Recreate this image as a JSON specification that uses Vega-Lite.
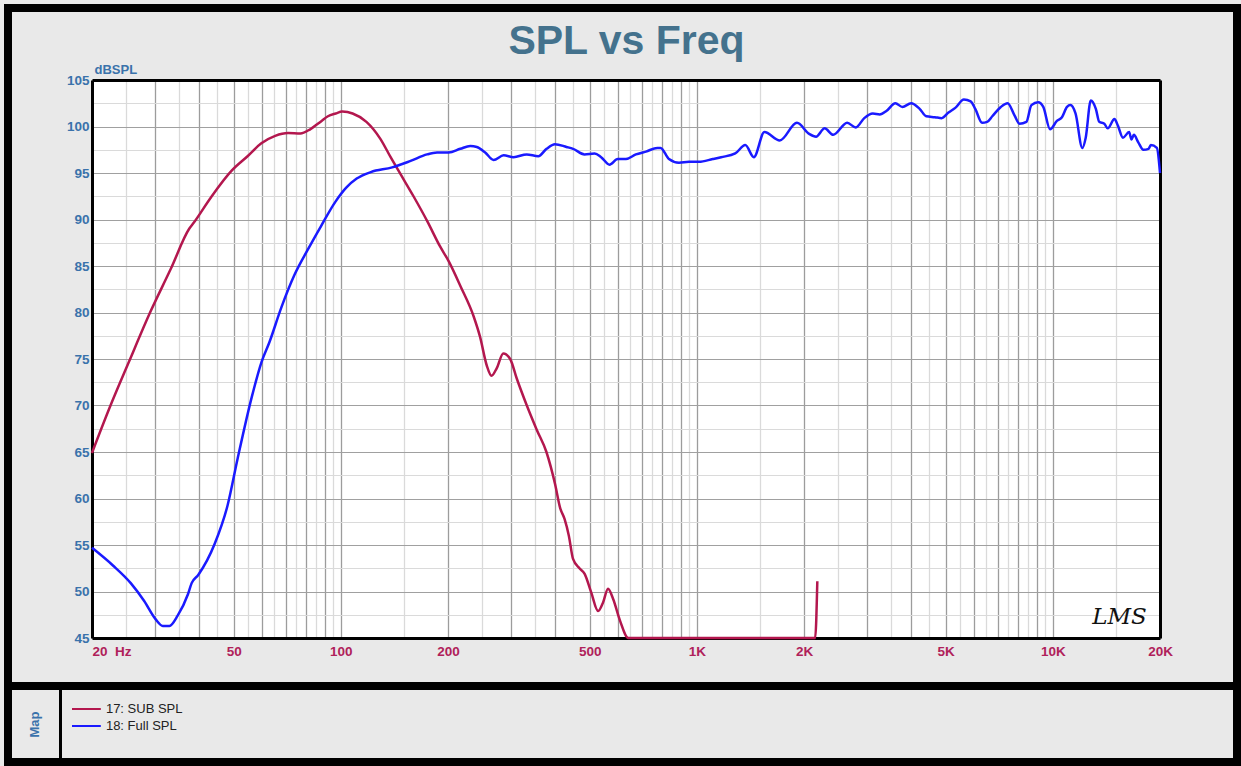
{
  "$schema": "https://vega.github.io/schema/vega-lite/v6.json",
  "background": "#e9e9e9",
  "padding": {"left": 4, "top": 4, "right": 0, "bottom": 0},
  "bounds": "flush",
  "spacing": 0,
  "config": {"font": "Liberation Sans", "view": {"stroke": null}},
  "datasets": {
    "spl": [
      {"series": "17: SUB SPL", "freq": 20, "db": 64.9},
      {"series": "17: SUB SPL", "freq": 22.6, "db": 70.1},
      {"series": "17: SUB SPL", "freq": 25.4, "db": 74.7},
      {"series": "17: SUB SPL", "freq": 29.2, "db": 80.1},
      {"series": "17: SUB SPL", "freq": 33.3, "db": 84.7},
      {"series": "17: SUB SPL", "freq": 37.5, "db": 89.0},
      {"series": "17: SUB SPL", "freq": 38.7, "db": 89.7},
      {"series": "17: SUB SPL", "freq": 43.2, "db": 92.4},
      {"series": "17: SUB SPL", "freq": 49.5, "db": 95.3},
      {"series": "17: SUB SPL", "freq": 54.7, "db": 96.8},
      {"series": "17: SUB SPL", "freq": 59.8, "db": 98.2},
      {"series": "17: SUB SPL", "freq": 65.4, "db": 99.0},
      {"series": "17: SUB SPL", "freq": 71.1, "db": 99.3},
      {"series": "17: SUB SPL", "freq": 77, "db": 99.25},
      {"series": "17: SUB SPL", "freq": 82, "db": 99.7},
      {"series": "17: SUB SPL", "freq": 88.3, "db": 100.6},
      {"series": "17: SUB SPL", "freq": 92, "db": 101.1},
      {"series": "17: SUB SPL", "freq": 96.7, "db": 101.4},
      {"series": "17: SUB SPL", "freq": 101, "db": 101.6},
      {"series": "17: SUB SPL", "freq": 107.9, "db": 101.4},
      {"series": "17: SUB SPL", "freq": 118, "db": 100.5},
      {"series": "17: SUB SPL", "freq": 129, "db": 98.7},
      {"series": "17: SUB SPL", "freq": 138, "db": 96.7},
      {"series": "17: SUB SPL", "freq": 147, "db": 94.9},
      {"series": "17: SUB SPL", "freq": 160, "db": 92.5},
      {"series": "17: SUB SPL", "freq": 175, "db": 89.8},
      {"series": "17: SUB SPL", "freq": 190, "db": 87.1},
      {"series": "17: SUB SPL", "freq": 201, "db": 85.5},
      {"series": "17: SUB SPL", "freq": 217, "db": 82.8},
      {"series": "17: SUB SPL", "freq": 236, "db": 79.6},
      {"series": "17: SUB SPL", "freq": 246, "db": 77.4},
      {"series": "17: SUB SPL", "freq": 257, "db": 74.3},
      {"series": "17: SUB SPL", "freq": 265, "db": 73.2},
      {"series": "17: SUB SPL", "freq": 274, "db": 74.0},
      {"series": "17: SUB SPL", "freq": 286, "db": 75.6},
      {"series": "17: SUB SPL", "freq": 299, "db": 75.0},
      {"series": "17: SUB SPL", "freq": 312, "db": 72.9},
      {"series": "17: SUB SPL", "freq": 333, "db": 70.0},
      {"series": "17: SUB SPL", "freq": 355, "db": 67.4},
      {"series": "17: SUB SPL", "freq": 378, "db": 65.0},
      {"series": "17: SUB SPL", "freq": 400, "db": 61.5},
      {"series": "17: SUB SPL", "freq": 413, "db": 59.0},
      {"series": "17: SUB SPL", "freq": 425, "db": 57.8},
      {"series": "17: SUB SPL", "freq": 437, "db": 56.0},
      {"series": "17: SUB SPL", "freq": 449, "db": 53.5},
      {"series": "17: SUB SPL", "freq": 468, "db": 52.5},
      {"series": "17: SUB SPL", "freq": 484, "db": 51.9},
      {"series": "17: SUB SPL", "freq": 505, "db": 49.9},
      {"series": "17: SUB SPL", "freq": 528, "db": 47.9},
      {"series": "17: SUB SPL", "freq": 545, "db": 48.8},
      {"series": "17: SUB SPL", "freq": 563, "db": 50.3},
      {"series": "17: SUB SPL", "freq": 582, "db": 49.2},
      {"series": "17: SUB SPL", "freq": 608, "db": 46.9},
      {"series": "17: SUB SPL", "freq": 642, "db": 45.0},
      {"series": "17: SUB SPL", "freq": 2150, "db": 45.0},
      {"series": "17: SUB SPL", "freq": 2180, "db": 51.1},
      {"series": "18: Full SPL", "freq": 20, "db": 54.7},
      {"series": "18: Full SPL", "freq": 22.9, "db": 52.8},
      {"series": "18: Full SPL", "freq": 25.7, "db": 50.9},
      {"series": "18: Full SPL", "freq": 28, "db": 49.0},
      {"series": "18: Full SPL", "freq": 30.2, "db": 47.0},
      {"series": "18: Full SPL", "freq": 31.6, "db": 46.3},
      {"series": "18: Full SPL", "freq": 33, "db": 46.3},
      {"series": "18: Full SPL", "freq": 34.8, "db": 47.4},
      {"series": "18: Full SPL", "freq": 37.2, "db": 49.7},
      {"series": "18: Full SPL", "freq": 38.1, "db": 50.9},
      {"series": "18: Full SPL", "freq": 39.8, "db": 51.8},
      {"series": "18: Full SPL", "freq": 44.2, "db": 55.1},
      {"series": "18: Full SPL", "freq": 48.1, "db": 59.3},
      {"series": "18: Full SPL", "freq": 51.3, "db": 64.3},
      {"series": "18: Full SPL", "freq": 56.2, "db": 70.9},
      {"series": "18: Full SPL", "freq": 59.9, "db": 74.7},
      {"series": "18: Full SPL", "freq": 63, "db": 76.8},
      {"series": "18: Full SPL", "freq": 68, "db": 80.5},
      {"series": "18: Full SPL", "freq": 74, "db": 84.0},
      {"series": "18: Full SPL", "freq": 80.6, "db": 86.7},
      {"series": "18: Full SPL", "freq": 88, "db": 89.3},
      {"series": "18: Full SPL", "freq": 96.5, "db": 91.9},
      {"series": "18: Full SPL", "freq": 103.4, "db": 93.4},
      {"series": "18: Full SPL", "freq": 110.8, "db": 94.4},
      {"series": "18: Full SPL", "freq": 121.4, "db": 95.1},
      {"series": "18: Full SPL", "freq": 139.4, "db": 95.6},
      {"series": "18: Full SPL", "freq": 157, "db": 96.3},
      {"series": "18: Full SPL", "freq": 174.6, "db": 97.0},
      {"series": "18: Full SPL", "freq": 186.3, "db": 97.2},
      {"series": "18: Full SPL", "freq": 200.9, "db": 97.2},
      {"series": "18: Full SPL", "freq": 216.6, "db": 97.6},
      {"series": "18: Full SPL", "freq": 231, "db": 97.9},
      {"series": "18: Full SPL", "freq": 241, "db": 97.8},
      {"series": "18: Full SPL", "freq": 254.4, "db": 97.2},
      {"series": "18: Full SPL", "freq": 268.6, "db": 96.4},
      {"series": "18: Full SPL", "freq": 286.6, "db": 96.9},
      {"series": "18: Full SPL", "freq": 305.6, "db": 96.7},
      {"series": "18: Full SPL", "freq": 332.7, "db": 97.0},
      {"series": "18: Full SPL", "freq": 358.6, "db": 96.8},
      {"series": "18: Full SPL", "freq": 378.4, "db": 97.6},
      {"series": "18: Full SPL", "freq": 399.4, "db": 98.1},
      {"series": "18: Full SPL", "freq": 430.4, "db": 97.8},
      {"series": "18: Full SPL", "freq": 449.2, "db": 97.6},
      {"series": "18: Full SPL", "freq": 483.5, "db": 97.0},
      {"series": "18: Full SPL", "freq": 516.2, "db": 97.1},
      {"series": "18: Full SPL", "freq": 538.5, "db": 96.7},
      {"series": "18: Full SPL", "freq": 568.5, "db": 95.9},
      {"series": "18: Full SPL", "freq": 599.5, "db": 96.5},
      {"series": "18: Full SPL", "freq": 632.2, "db": 96.5},
      {"series": "18: Full SPL", "freq": 674.3, "db": 97.0},
      {"series": "18: Full SPL", "freq": 719.5, "db": 97.3},
      {"series": "18: Full SPL", "freq": 774.5, "db": 97.7},
      {"series": "18: Full SPL", "freq": 790.9, "db": 97.7},
      {"series": "18: Full SPL", "freq": 835, "db": 96.5},
      {"series": "18: Full SPL", "freq": 891, "db": 96.1},
      {"series": "18: Full SPL", "freq": 951, "db": 96.2},
      {"series": "18: Full SPL", "freq": 1014, "db": 96.2},
      {"series": "18: Full SPL", "freq": 1108, "db": 96.5},
      {"series": "18: Full SPL", "freq": 1170, "db": 96.7},
      {"series": "18: Full SPL", "freq": 1282, "db": 97.1},
      {"series": "18: Full SPL", "freq": 1368, "db": 98.0},
      {"series": "18: Full SPL", "freq": 1446, "db": 96.7},
      {"series": "18: Full SPL", "freq": 1548, "db": 99.4},
      {"series": "18: Full SPL", "freq": 1710, "db": 98.5},
      {"series": "18: Full SPL", "freq": 1911, "db": 100.4},
      {"series": "18: Full SPL", "freq": 2068, "db": 99.2},
      {"series": "18: Full SPL", "freq": 2162, "db": 98.9},
      {"series": "18: Full SPL", "freq": 2286, "db": 99.8},
      {"series": "18: Full SPL", "freq": 2415, "db": 99.1},
      {"series": "18: Full SPL", "freq": 2644, "db": 100.4},
      {"series": "18: Full SPL", "freq": 2796, "db": 99.9},
      {"series": "18: Full SPL", "freq": 2953, "db": 100.9},
      {"series": "18: Full SPL", "freq": 3121, "db": 101.4},
      {"series": "18: Full SPL", "freq": 3265, "db": 101.3},
      {"series": "18: Full SPL", "freq": 3414, "db": 101.7},
      {"series": "18: Full SPL", "freq": 3611, "db": 102.5},
      {"series": "18: Full SPL", "freq": 3781, "db": 102.1},
      {"series": "18: Full SPL", "freq": 3998, "db": 102.5},
      {"series": "18: Full SPL", "freq": 4225, "db": 101.9},
      {"series": "18: Full SPL", "freq": 4412, "db": 101.1},
      {"series": "18: Full SPL", "freq": 4663, "db": 101.0},
      {"series": "18: Full SPL", "freq": 4873, "db": 100.9},
      {"series": "18: Full SPL", "freq": 5092, "db": 101.5},
      {"series": "18: Full SPL", "freq": 5321, "db": 102.0},
      {"series": "18: Full SPL", "freq": 5625, "db": 102.9},
      {"series": "18: Full SPL", "freq": 5877, "db": 102.7},
      {"series": "18: Full SPL", "freq": 6055, "db": 101.9},
      {"series": "18: Full SPL", "freq": 6328, "db": 100.4},
      {"series": "18: Full SPL", "freq": 6538, "db": 100.5},
      {"series": "18: Full SPL", "freq": 6760, "db": 101.1},
      {"series": "18: Full SPL", "freq": 7143, "db": 102.1},
      {"series": "18: Full SPL", "freq": 7466, "db": 102.5},
      {"series": "18: Full SPL", "freq": 7804, "db": 101.2},
      {"series": "18: Full SPL", "freq": 8064, "db": 100.3},
      {"series": "18: Full SPL", "freq": 8427, "db": 100.5},
      {"series": "18: Full SPL", "freq": 8706, "db": 102.3},
      {"series": "18: Full SPL", "freq": 9098, "db": 102.6},
      {"series": "18: Full SPL", "freq": 9401, "db": 102.1},
      {"series": "18: Full SPL", "freq": 9824, "db": 99.7},
      {"series": "18: Full SPL", "freq": 10266, "db": 100.6},
      {"series": "18: Full SPL", "freq": 10608, "db": 101.0},
      {"series": "18: Full SPL", "freq": 10961, "db": 102.1},
      {"series": "18: Full SPL", "freq": 11206, "db": 102.3},
      {"series": "18: Full SPL", "freq": 11580, "db": 101.4},
      {"series": "18: Full SPL", "freq": 12101, "db": 97.7},
      {"series": "18: Full SPL", "freq": 12370, "db": 98.8},
      {"series": "18: Full SPL", "freq": 12782, "db": 102.8},
      {"series": "18: Full SPL", "freq": 13208, "db": 101.9},
      {"series": "18: Full SPL", "freq": 13502, "db": 100.5},
      {"series": "18: Full SPL", "freq": 13952, "db": 100.3},
      {"series": "18: Full SPL", "freq": 14260, "db": 99.8},
      {"series": "18: Full SPL", "freq": 14900, "db": 100.8},
      {"series": "18: Full SPL", "freq": 15230, "db": 100.1},
      {"series": "18: Full SPL", "freq": 15740, "db": 98.8},
      {"series": "18: Full SPL", "freq": 16380, "db": 99.4},
      {"series": "18: Full SPL", "freq": 16630, "db": 98.6},
      {"series": "18: Full SPL", "freq": 16890, "db": 99.1},
      {"series": "18: Full SPL", "freq": 17380, "db": 98.3},
      {"series": "18: Full SPL", "freq": 17960, "db": 97.5},
      {"series": "18: Full SPL", "freq": 18570, "db": 97.6},
      {"series": "18: Full SPL", "freq": 18850, "db": 98.0},
      {"series": "18: Full SPL", "freq": 19600, "db": 97.7},
      {"series": "18: Full SPL", "freq": 20000, "db": 95.0}
    ]
  },
  "vconcat": [
    {
      "width": 1229,
      "height": 678,
      "view": {"stroke": "#000000", "strokeWidth": 8, "fill": "#e9e9e9"},
      "title": {
        "text": "SPL vs Freq",
        "fontSize": 41,
        "fontWeight": "bold",
        "color": "#44728d",
        "anchor": "middle",
        "frame": "group",
        "baseline": "alphabetic",
        "offset": -87,
        "dx": 4
      },
      "data": {"name": "spl"},
      "layer": [
        {
          "transform": [{"filter": "datum.series == '17: SUB SPL'"}],
          "mark": {"type": "line", "strokeWidth": 2.5, "interpolate": "monotone"},
          "encoding": {
            "x": {
              "field": "freq", "type": "quantitative",
              "scale": {"type": "log", "domain": [20, 20000], "range": [84, 1152], "nice": false},
              "axis": {"orient": "top", "values": [632.4555], "grid": true, "gridColor": "#ffffff", "gridWidth": 1068, "gridOpacity": 1, "labels": false, "ticks": false, "domain": false, "title": null}
            },
            "y": {
              "field": "db", "type": "quantitative",
              "scale": {"domain": [45, 105], "range": [630, 72], "zero": false, "nice": false},
              "axis": {
                "orient": "left", "offset": -84,
                "values": [45, 47.5, 50, 52.5, 55, 57.5, 60, 62.5, 65, 67.5, 70, 72.5, 75, 77.5, 80, 82.5, 85, 87.5, 90, 92.5, 95, 97.5, 100, 102.5, 105],
                "grid": true,
                "gridColor": {"condition": {"test": "datum.value % 5 == 0", "value": "#a0a0a0"}, "value": "#dadada"},
                "gridWidth": 1.2, "gridOpacity": 1,
                "ticks": false,
                "domain": true, "domainColor": "#000000", "domainWidth": 3,
                "labelExpr": "datum.value % 5 == 0 ? datum.label : ''",
                "labelColor": "#3a72ab", "labelFontSize": 13.5, "labelFontWeight": "bold", "labelPadding": 3,
                "labelOverlap": false, "labelBound": false, "labelFlush": false,
                "title": "dBSPL", "titleAngle": 0, "titleX": 2, "titleY": 65, "titleAlign": "left", "titleBaseline": "alphabetic",
                "titleColor": "#3a72ab", "titleFontSize": 13, "titleFontWeight": "bold"
              }
            },
            "color": {
              "field": "series", "type": "nominal",
              "scale": {"domain": ["17: SUB SPL", "18: Full SPL"], "range": ["#b3174e", "#1a1aff"]},
              "legend": {"orient": "none", "legendX": 68.4, "legendY": 691, "title": null, "symbolType": "M-1.6,0H1.6", "symbolSize": 324, "symbolStrokeWidth": 2, "labelFontSize": 13, "labelColor": "#222222", "labelOffset": 9.5, "rowPadding": 0, "padding": 0}
            }
          }
        },
        {
          "transform": [{"filter": "datum.series == '18: Full SPL'"}],
          "mark": {"type": "line", "strokeWidth": 2.5, "interpolate": "monotone"},
          "encoding": {
            "x": {
              "field": "freq", "type": "quantitative",
              "scale": {"type": "log", "domain": [20, 20000], "range": [84, 1152], "nice": false},
              "axis": {
                "orient": "top", "offset": -72,
                "values": [20, 25, 30, 35, 40, 45, 50, 55, 60, 65, 70, 75, 80, 85, 90, 95, 100, 150, 200, 250, 300, 350, 400, 450, 500, 550, 600, 650, 700, 750, 800, 850, 900, 950, 1000, 1500, 2000, 2500, 3000, 3500, 4000, 4500, 5000, 5500, 6000, 6500, 7000, 7500, 8000, 8500, 9000, 9500, 10000, 15000, 20000],
                "grid": true,
                "gridColor": {"condition": {"test": "datum.value % pow(10, floor(log(datum.value) / LN10 + 0.000001)) == 0", "value": "#9c9c9c"}, "value": "#dadada"},
                "gridWidth": 1.3, "gridOpacity": 1,
                "ticks": false, "labels": false,
                "domain": true, "domainColor": "#000000", "domainWidth": 3,
                "title": null
              }
            },
            "y": {
              "field": "db", "type": "quantitative",
              "scale": {"domain": [45, 105], "range": [630, 72], "zero": false, "nice": false},
              "axis": {"orient": "right", "offset": -77, "grid": false, "labels": false, "ticks": false, "domain": true, "domainColor": "#000000", "domainWidth": 3, "title": null}
            },
            "color": {
              "field": "series", "type": "nominal",
              "scale": {"domain": ["17: SUB SPL", "18: Full SPL"], "range": ["#b3174e", "#1a1aff"]},
              "legend": {"orient": "none", "legendX": 68.4, "legendY": 691, "title": null, "symbolType": "M-1.6,0H1.6", "symbolSize": 324, "symbolStrokeWidth": 2, "labelFontSize": 13, "labelColor": "#222222", "labelOffset": 9.5, "rowPadding": 0, "padding": 0}
            }
          }
        },
        {
          "data": {"values": [{"logo": "LMS"}]},
          "mark": {"type": "text", "fontSize": 23, "font": "DejaVu Serif", "fontStyle": "italic", "color": "#111111"},
          "encoding": {
            "x": {
              "datum": 15400, "type": "quantitative",
              "scale": {"type": "log", "domain": [20, 20000], "range": [84, 1152], "nice": false},
              "axis": {
                "orient": "bottom", "offset": -48,
                "values": [20, 50, 100, 200, 500, 1000, 2000, 5000, 10000, 20000],
                "grid": false, "ticks": false,
                "domain": true, "domainColor": "#000000", "domainWidth": 3,
                "labelExpr": "datum.value == 20 ? '20\u00a0 Hz' : (datum.value >= 1000 ? (datum.value / 1000) + 'K' : '' + datum.value)",
                "labelAlign": {"condition": {"test": "datum.value == 20", "value": "left"}, "value": "center"},
                "labelColor": "#b0215a", "labelFontSize": 13.5, "labelFontWeight": "bold", "labelPadding": 6,
                "labelOverlap": false, "labelBound": false, "labelFlush": false,
                "title": null
              }
            },
            "y": {
              "datum": 47.3, "type": "quantitative",
              "scale": {"domain": [45, 105], "range": [630, 72], "zero": false, "nice": false},
              "axis": null
            },
            "text": {"field": "logo"}
          }
        }
      ],
      "resolve": {"axis": {"x": "independent", "y": "independent"}}
    },
    {
      "width": 1229,
      "height": 76,
      "view": {"stroke": "#000000", "strokeWidth": 8},
      "data": {"values": []},
      "mark": "point",
      "encoding": {
        "y": {
          "datum": 0, "type": "quantitative",
          "scale": {"domain": [0, 1]},
          "axis": {
            "orient": "left", "offset": -52,
            "domain": true, "domainColor": "#000000", "domainWidth": 3,
            "labels": false, "ticks": false, "grid": false,
            "title": "Map", "titleX": -26, "titleY": 38, "titleAngle": 270, "titleAlign": "center", "titleBaseline": "middle",
            "titleColor": "#3a72ab", "titleFontSize": 13, "titleFontWeight": "bold"
          }
        }
      }
    }
  ]
}
